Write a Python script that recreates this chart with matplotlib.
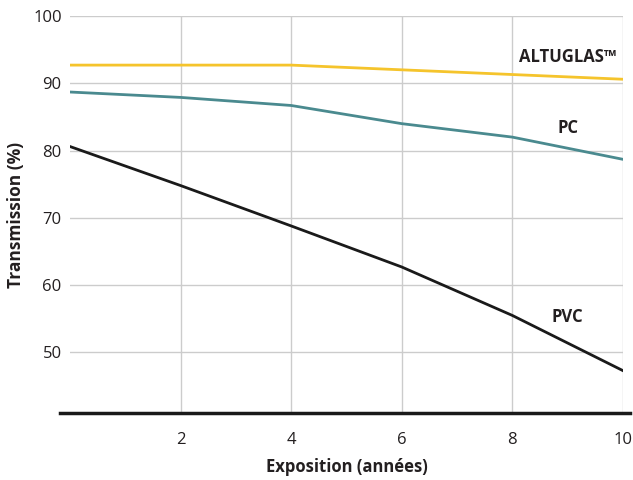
import matplotlib.pyplot as plt

years = [0, 2, 4, 6, 8, 10]
altuglas = [92.7, 92.7, 92.7, 92.0, 91.3, 90.6]
pc = [88.7, 87.9, 86.7, 84.0, 82.0, 78.7]
pvc = [80.6, 74.8, 68.8, 62.7, 55.5, 47.3]

x_ticks = [2, 4, 6, 8, 10]
y_ticks = [50, 60, 70, 80, 90, 100]

plt.rcParams['font.family'] = ['Open Sans', 'DejaVu Sans']

fig = plt.figure(figsize=(6.33, 4.8), dpi=100)
ax = fig.add_axes([0.1106, 0.1396, 0.8734, 0.8271])

ax.plot(years, altuglas, color="#f5c42c", linewidth=2)
ax.plot(years, pc, color="#4a8a8f", linewidth=2)
ax.plot(years, pvc, color="#1a1a1a", linewidth=2)

# series labels next to the lines
lbl = dict(fontsize=12, fontweight="bold", ha="center", va="center", color="#231f20")
ax.text(9.0, 93.9, "ALTUGLAS™", **lbl)
ax.text(9.0, 83.3, "PC", **lbl)
ax.text(9.0, 55.2, "PVC", **lbl)

ax.set_xlim(0, 10)
ax.set_ylim(41, 100)
ax.set_xticks(x_ticks)
ax.set_yticks(y_ticks)
ax.tick_params(length=0, labelsize=12, colors="#231f20")
ax.tick_params(axis="x", pad=14)
ax.tick_params(axis="y", pad=6)
ax.grid(True, color="#cccccc", linewidth=1)
ax.set_axisbelow(True)

for s in ax.spines.values():
    s.set_visible(False)

# thick baseline, a bit wider than the plot area
ax.plot([-0.018, 1.013], [0, 0], transform=ax.transAxes, color="#1a1a1a",
        linewidth=2.5, clip_on=False)

ax.set_xlabel("Exposition (années)", fontsize=12, fontweight="bold", labelpad=7, color="#231f20")
ax.set_ylabel("Transmission (%)", fontsize=12.5, fontweight="bold", labelpad=6, color="#231f20")

fig.savefig("out.png", dpi=100)
